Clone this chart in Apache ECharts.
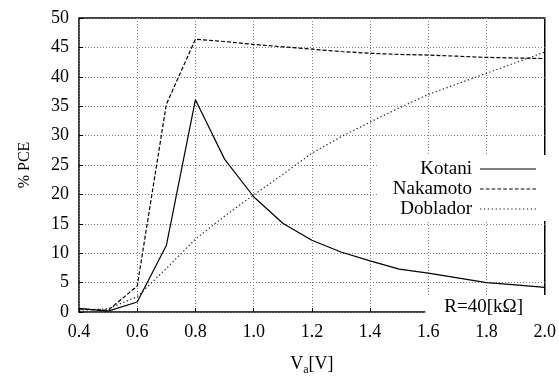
<!DOCTYPE html>
<html>
<head>
<meta charset="utf-8">
<script src="https://cdn.jsdelivr.net/npm/echarts@6/dist/echarts.min.js"></script>
<style>
  html, body { margin: 0; padding: 0; background: #fff; }
  #chart { width: 559px; height: 381px; }
</style>
</head>
<body>
<div id="chart"></div>
<script>
// Va [V]
var volts = [0.4, 0.5, 0.6, 0.7, 0.8, 0.9, 1.0, 1.1, 1.2, 1.3, 1.4, 1.5, 1.6, 1.7, 1.8, 1.9, 2.0];
// %PCE per method
var kotani = [0.6, 0.15, 1.7, 11.3, 36.1, 26.0, 19.6, 15.1, 12.2, 10.2, 8.7, 7.3, 6.6, 5.8, 5.0, 4.6, 4.2];
var nakamoto = [0.5, 0.3, 4.4, 35.3, 46.4, 46.0, 45.5, 45.1, 44.7, 44.3, 44.0, 43.8, 43.7, 43.5, 43.3, 43.2, 43.1];
var doblador = [0.3, 0.55, 2.6, 7.4, 12.4, 16.3, 19.9, 23.4, 27.0, 29.8, 32.3, 34.7, 37.0, 38.8, 40.6, 42.4, 44.2];
var seriesNames = ['Kotani', 'Nakamoto', 'Doblador'];
var noteText = 'R=40[kΩ]';

var FONT = '"Liberation Serif", "DejaVu Serif", serif';

function pairs(ys) {
  return volts.map(function (v, i) { return [v, ys[i]]; });
}

// legend sample: dashes drawn as little rects, scaled to the icon box
function dashIcon(len, gap, total) {
  var d = '';
  for (var x = 0; x < total; x += len + gap) {
    var w = Math.min(len, total - x);
    d += 'M' + x + ',0h' + w + 'v1h-' + w + 'z';
  }
  return 'path://' + d;
}

var chart = echarts.init(document.getElementById('chart'));

var gridLine = { show: true, lineStyle: { color: '#808080', type: [1, 2], width: 1 } };

chart.setOption({
  animation: false,
  grid: {
    left: 79, right: 12, top: 18, bottom: 60,
    show: true, borderColor: '#000', borderWidth: 1.5, backgroundColor: 'transparent'
  },
  legend: {
    orient: 'vertical',
    align: 'right',
    right: 12,
    top: 155,
    padding: [4, 11, 2, 15],
    backgroundColor: '#fff',
    itemWidth: 56,
    itemHeight: 14,
    itemGap: 0,
    selectedMode: false,
    textStyle: { fontFamily: FONT, fontSize: 19, color: '#000', lineHeight: 20, padding: [0, 3, 0, 0] },
    itemStyle: { borderWidth: 0 },
    data: [
      { name: seriesNames[0], icon: dashIcon(56, 0, 56) },
      { name: seriesNames[1], icon: dashIcon(3.5, 2.1, 56) },
      { name: seriesNames[2], icon: dashIcon(1.3, 2.5, 56) }
    ]
  },
  xAxis: {
    type: 'value',
    min: 0.4, max: 2.0, interval: 0.2,
    name: 'V{sub|a}[V]',
    nameLocation: 'middle',
    nameGap: 40,
    nameTextStyle: {
      fontFamily: FONT, fontSize: 18, color: '#000',
      rich: { sub: { fontFamily: FONT, fontSize: 12, color: '#000', padding: [12, 0, 0, 0] } }
    },
    axisLine: { show: false },
    axisTick: { show: true, inside: true, length: 4, lineStyle: { color: '#000' } },
    axisLabel: {
      fontFamily: FONT, fontSize: 18, color: '#000', margin: 11,
      formatter: function (v) { return v.toFixed(1); }
    },
    splitLine: gridLine
  },
  yAxis: {
    type: 'value',
    min: 0, max: 50, interval: 5,
    name: '% PCE',
    nameLocation: 'middle',
    nameGap: 46,
    nameRotate: 90,
    nameTextStyle: { fontFamily: FONT, fontSize: 16, color: '#000' },
    axisLine: { show: false },
    axisTick: { show: true, inside: true, length: 4, lineStyle: { color: '#000' } },
    axisLabel: { fontFamily: FONT, fontSize: 18, color: '#000', margin: 10 },
    splitLine: gridLine
  },
  graphic: [{
    type: 'text',
    right: 12,
    bottom: 61,
    z: 1,
    style: {
      text: noteText,
      font: '19px ' + FONT,
      fill: '#000',
      backgroundColor: '#fff',
      padding: [3, 24, 3, 19]
    }
  }],
  series: [
    {
      name: seriesNames[0], type: 'line', data: pairs(kotani),
      symbol: 'none', color: '#000',
      lineStyle: { color: '#000', width: 1.2 }
    },
    {
      name: seriesNames[1], type: 'line', data: pairs(nakamoto),
      symbol: 'none', color: '#000',
      lineStyle: { color: '#000', width: 1.2, type: [4, 2] }
    },
    {
      name: seriesNames[2], type: 'line', data: pairs(doblador),
      symbol: 'none', color: '#222',
      lineStyle: { color: '#222', width: 1.2, type: [1.3, 2.5] }
    }
  ]
});
</script>
</body>
</html>
